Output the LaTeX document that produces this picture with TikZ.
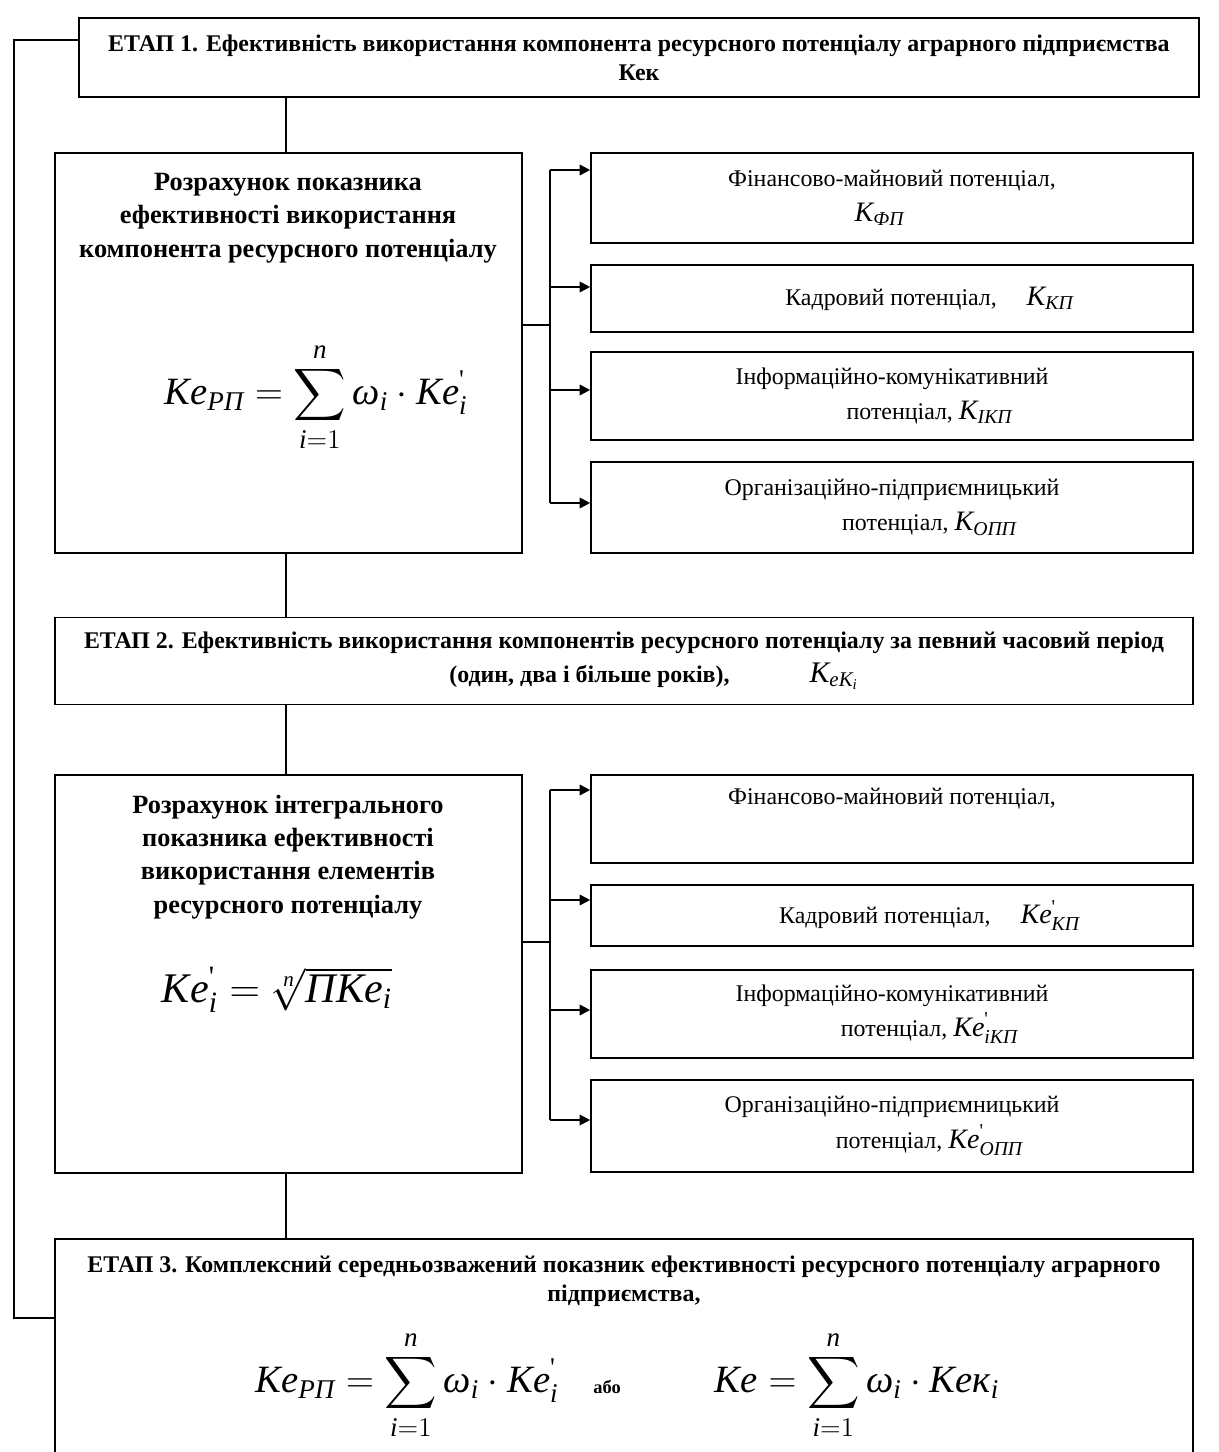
\RequirePackage{fix-cm}
\documentclass[tikz,border=0pt]{standalone}
\usepackage{amsmath}
\usepackage{fontspec}
\setmainfont{Liberation Serif}
\usetikzlibrary{arrows.meta}

\newcommand{\itx}[1]{\text{\normalfont\itshape #1}}
\newcommand{\prm}{\text{\normalfont\textquotesingle}}

\tikzset{
  box/.style={draw, line width=1pt, inner sep=0pt},
  stagetxt/.style={font=\bfseries\fontsize{13.6}{16.5}\selectfont, align=center},
  titletxt/.style={font=\bfseries\fontsize{15}{19}\selectfont, align=center},
  parttxt/.style={font=\fontsize{13.6}{20}\selectfont, align=center},
  arr/.style={-{Triangle[length=6pt,width=6pt]}},
}

\begin{document}
\begin{tikzpicture}[x=0.02cm,y=-0.02cm,line width=1pt]
\path[use as bounding box, clip] (0,0) rectangle (1219,1452);

% stages and calculation boxes
\node[box, minimum width=22.4cm, minimum height=1.58cm, stagetxt] (s1) at (639,57.5)
  {ЕТАП 1. Ефективність використання компонента ресурсного потенціалу аграрного підприємства\\Кек};
\node[box, minimum width=9.34cm, minimum height=8cm] (r1) at (288.5,353) {};
\node[box, minimum width=22.76cm, minimum height=1.74cm, stagetxt, font=\bfseries\fontsize{13.6}{19}\selectfont] (s2) at (624,661)
  {ЕТАП 2. Ефективність використання компонентів ресурсного потенціалу за певний часовий період\\
   \hspace*{1.2cm}(один, два і більше років),\hspace{1.6cm}{\fontsize{17}{20}\selectfont$\itx{K}_{\itx{eK}_{\itx{i}}}$}};
\node[box, minimum width=9.34cm, minimum height=7.96cm] (r2) at (288.5,974) {};
\node[box, minimum width=22.76cm, minimum height=4.84cm] (s3) at (624,1360) {};

% texts in the calculation boxes
\node[titletxt] (r1t) at (288,218)
  {Розрахунок показника\\ефективності використання\\компонента ресурсного потенціалу};
\node[font=\fontsize{22}{27}\selectfont] (r1f) at (316,397)
  {$\displaystyle \itx{Ke}_{\itx{РП}} = \sum_{\itx{i}=1}^{\itx{n}} \itx{ω}_{\itx{i}}\cdot \itx{Ke}^{\prm}_{\itx{i}}$};
\node[titletxt] (r2t) at (288,857)
  {Розрахунок інтегрального\\показника ефективності\\використання елементів\\ресурсного потенціалу};
\node[font=\fontsize{24}{29}\selectfont] (r2f) at (277,990)
  {$\itx{Ke}^{\prm}_{\itx{i}} = \sqrt[\itx{n}]{\itx{ПKe}_{\itx{i}}}$};
\node[stagetxt] (s3t) at (624,1281)
  {ЕТАП 3. Комплексний середньозважений показник ефективності ресурсного потенціалу аграрного\\підприємства,};
\node[font=\fontsize{22}{26}\selectfont] (s3f) at (407,1385)
  {$\displaystyle \itx{Ke}_{\itx{РП}} = \sum_{\itx{i}=1}^{\itx{n}} \itx{ω}_{\itx{i}}\cdot \itx{Ke}^{\prm}_{\itx{i}}$};
\node[font=\bfseries\fontsize{10.5}{12}\selectfont] (or) at (607,1387) {або};
\node[font=\fontsize{22}{26}\selectfont] (s3g) at (857,1385)
  {$\displaystyle \itx{Ke} = \sum_{\itx{i}=1}^{\itx{n}} \itx{ω}_{\itx{i}}\cdot \itx{Keк}_{\itx{i}}$};

% components
\begin{scope}[every node/.style={box, minimum width=12.04cm, parttxt}]
  \node[minimum height=1.8cm]  (f1) at (892,198)   {Фінансово-майновий потенціал,\\\hspace*{-0.5cm}{\fontsize{16}{20}\selectfont$\itx{K}_{\itx{ФП}}$}};
  \node[minimum height=1.34cm] (f2) at (892,298.5) {\hspace*{1.5cm}Кадровий потенціал, \quad{\fontsize{16}{20}\selectfont$\itx{K}_{\itx{КП}}$}};
  \node[minimum height=1.76cm] (f3) at (892,396)   {Інформаційно-комунікативний\\\hspace*{1.5cm}потенціал, {\fontsize{16}{20}\selectfont$\itx{K}_{\itx{ІКП}}$}};
  \node[minimum height=1.82cm] (f4) at (892,507.5) {Організаційно-підприємницький\\\hspace*{1.5cm}потенціал, {\fontsize{16}{20}\selectfont$\itx{K}_{\itx{ОПП}}$}};
  \node[minimum height=1.76cm] (g1) at (892,819)   {Фінансово-майновий потенціал,\\\strut};
  \node[minimum height=1.22cm] (g2) at (892,915.5) {\hspace*{1.5cm}Кадровий потенціал, \quad{\fontsize{16}{20}\selectfont$\itx{Ke}^{\prm}_{\itx{КП}}$}};
  \node[minimum height=1.76cm] (g3) at (892,1014)  {Інформаційно-комунікативний\\\hspace*{1.5cm}потенціал, {\fontsize{16}{20}\selectfont$\itx{Ke}^{\prm}_{\itx{iКП}}$}};
  \node[minimum height=1.84cm] (g4) at (892,1126)  {Організаційно-підприємницький\\\hspace*{1.5cm}потенціал, {\fontsize{16}{20}\selectfont$\itx{Ke}^{\prm}_{\itx{ОПП}}$}};
\end{scope}

% trunk and feedback line
\coordinate (tr) at (286,0);
\draw (s1.south -| tr) -- (r1.north -| tr);
\draw (r1.south -| tr) -- (s2.north -| tr);
\draw (s2.south -| tr) -- (r2.north -| tr);
\draw (r2.south -| tr) -- (s3.north -| tr);
\coordinate (l1) at (14,40);
\coordinate (l2) at (14,1318);
\draw (s1.west |- l1) -- (l1) -- (l2) -- (s3.west |- l2);

% bus lines to the components
\coordinate (j1) at (550,325);
\coordinate (j2) at (550,942);
\coordinate (a1) at (f1.west |- 0,170);
\coordinate (a2) at (f2.west |- 0,287);
\coordinate (a3) at (f3.west |- 0,390);
\coordinate (a4) at (f4.west |- 0,503);
\coordinate (c1) at (g1.west |- 0,790);
\coordinate (c2) at (g2.west |- 0,900);
\coordinate (c3) at (g3.west |- 0,1010);
\coordinate (c4) at (g4.west |- 0,1120);
\draw (r1.east |- j1) -- (j1);
\draw (a1 -| j1) -- (a4 -| j1);
\draw (r2.east |- j2) -- (j2);
\draw (c1 -| j2) -- (c4 -| j2);
\foreach \p in {a1,a2,a3,a4}
  \draw[arr] (\p -| j1) -- (\p);
\foreach \p in {c1,c2,c3,c4}
  \draw[arr] (\p -| j2) -- (\p);

\end{tikzpicture}
\end{document}
